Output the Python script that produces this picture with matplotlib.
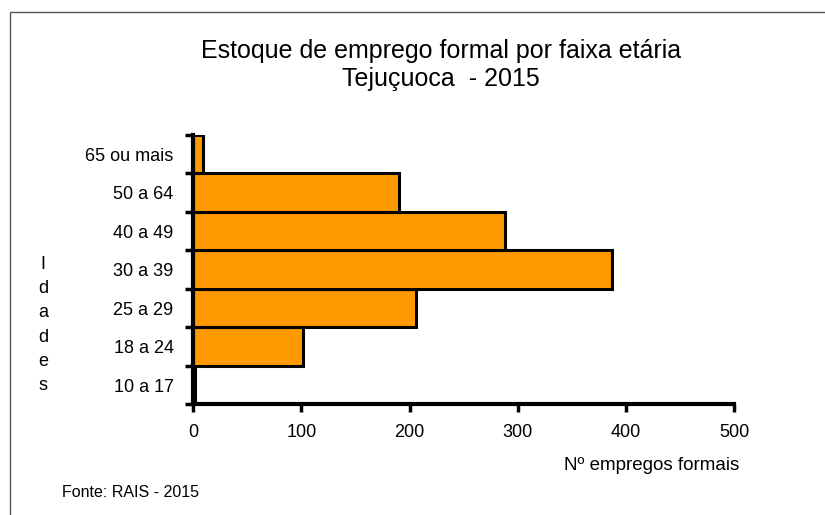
import numpy as np
import matplotlib.pyplot as plt
from matplotlib.patches import Rectangle

plt.rcParams['font.family'] = ['Liberation Sans', 'DejaVu Sans']

# data
faixas = ['10 a 17', '18 a 24', '25 a 29', '30 a 39', '40 a 49', '50 a 64', '65 ou mais']
empregos = [2, 102, 206, 387, 288, 190, 9]
xticks = [0, 100, 200, 300, 400, 500]

fig = plt.figure(figsize=(8.25, 5.15), dpi=100)
ax = fig.add_axes([0.234, 0.215, 0.656, 0.523])

y = np.arange(len(faixas))
ax.barh(y, empregos, height=1.0, color='#ff9900', edgecolor='black', linewidth=2.2, align='edge')

ax.set_xlim(0, 500)
ax.set_ylim(0, len(faixas))
ax.set_xticks(xticks)
ax.set_xticklabels([str(v) for v in xticks], fontsize=13)
ax.set_yticks(np.arange(len(faixas) + 1))
ax.set_yticklabels([])
ax.set_yticks(y + 0.5, minor=True)
ax.set_yticklabels(faixas, minor=True, fontsize=13)
ax.tick_params(axis='y', which='minor', length=0, pad=14)
ax.tick_params(axis='y', which='major', length=6, width=2.5, direction='out')
ax.tick_params(axis='x', which='major', length=6, width=2.5, direction='out', pad=8)

for s in ['top', 'right']:
    ax.spines[s].set_visible(False)
for s in ['left', 'bottom']:
    ax.spines[s].set_linewidth(3)

fig.text(0.535, 0.874, 'Estoque de emprego formal por faixa etária\nTejuçuoca  - 2015',
         ha='center', va='center', fontsize=18, linespacing=1.25)

fig.text(0.052, 0.369, 'I\nd\na\nd\ne\ns', ha='center', va='center', fontsize=13, linespacing=1.55)
fig.text(0.79, 0.097, 'Nº empregos formais', ha='center', va='center', fontsize=13.5)
fig.text(0.158, 0.044, 'Fonte: RAIS - 2015', ha='center', va='center', fontsize=11.5)

fig.patches.append(Rectangle((0.012, -0.05), 1.1, 1.027, transform=fig.transFigure,
                             fill=False, edgecolor='#555555', linewidth=1.0))

fig.savefig('out.png', dpi=100)
